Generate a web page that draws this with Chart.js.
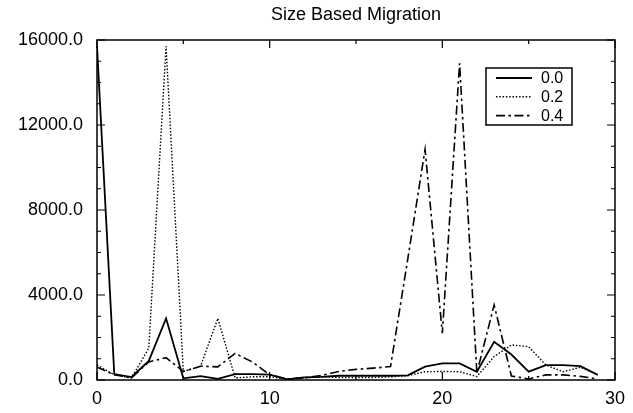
<!DOCTYPE html>
<html lang="en">
<head>
    <meta charset="UTF-8">
    <title>Size Based Migration</title>
    <script src="https://cdn.jsdelivr.net/npm/chart.js"></script>
    <style>
        body {
            margin: 0;
            padding: 0;
            background: #ffffff;
        }
        #wrap {
            width: 633px;
            height: 413px;
        }
    </style>
</head>
<body>
    <div id="wrap"><canvas id="migrationChart"></canvas></div>

    <script>
        // x positions (generation index)
        const steps = [0, 1, 2, 3, 4, 5, 6, 7, 8, 9, 10, 11, 12, 13, 14,
                       15, 16, 17, 18, 19, 20, 21, 22, 23, 24, 25, 26, 27, 28, 29];

        const seriesNames = ['0.0', '0.2', '0.4'];

        const rate00 = [15700, 280, 140, 900, 2900, 80, 180, 50, 280, 280,
                        250, 30, 120, 150, 200, 200, 200, 200, 220, 630,
                        780, 780, 390, 1800, 1200, 390, 700, 700, 650, 240];
        const rate02 = [700, 250, 100, 1500, 15700, 400, 650, 2900, 100, 150,
                        150, 50, 100, 150, 120, 120, 120, 150, 200, 390,
                        400, 390, 160, 1100, 1650, 1570, 700, 390, 600, 250];
        const rate04 = [600, 250, 100, 850, 1050, 400, 650, 620, 1250, 850,
                        250, 50, 100, 220, 400, 500, 560, 630, 5700, 10850,
                        2200, 14900, 330, 3530, 190, 50, 240, 240, 170, 50];

        const xTicks = [0, 10, 20, 30];
        const yTicks = [0, 4000, 8000, 12000, 16000];

        const chartTitle = 'Size Based Migration';
        const FONT = "'Liberation Sans', Arial, sans-serif";

        function toPoints(values) {
            return values.map((v, i) => ({ x: steps[i], y: v }));
        }

        // title centred over the plot area, not the whole canvas
        const plotTitle = {
            id: 'plotTitle',
            afterDraw(chart) {
                const ctx = chart.ctx;
                const area = chart.chartArea;
                ctx.save();
                ctx.font = '18px ' + FONT;
                ctx.fillStyle = '#000';
                ctx.textAlign = 'center';
                ctx.textBaseline = 'middle';
                ctx.fillText(chartTitle, (area.left + area.right) / 2, 15);
                ctx.restore();
            }
        };

        // inward tick marks on all four sides, plus the frame
        const frameTicks = {
            id: 'frameTicks',
            afterDatasetsDraw(chart) {
                const ctx = chart.ctx;
                const area = chart.chartArea;
                const xs = chart.scales.x;
                const ys = chart.scales.y;
                ctx.save();
                ctx.strokeStyle = '#000';
                ctx.lineWidth = 1.5;
                ctx.strokeRect(area.left, area.top, area.right - area.left, area.bottom - area.top);
                ctx.lineWidth = 1.2;
                ctx.beginPath();
                for (let v = 0; v <= 16000; v += 1000) {
                    const py = ys.getPixelForValue(v);
                    const len = (v % 4000 === 0) ? 8 : 4;
                    ctx.moveTo(area.left, py);
                    ctx.lineTo(area.left + len, py);
                    ctx.moveTo(area.right, py);
                    ctx.lineTo(area.right - len, py);
                }
                for (let v = 0; v <= 30; v += 5) {
                    const px = xs.getPixelForValue(v);
                    const len = (v % 10 === 0) ? 8 : 4;
                    ctx.moveTo(px, area.bottom);
                    ctx.lineTo(px, area.bottom - len);
                    ctx.moveTo(px, area.top);
                    ctx.lineTo(px, area.top + len);
                }
                ctx.stroke();
                ctx.restore();
            }
        };

        // boxed legend in the upper right of the plot
        const boxLegend = {
            id: 'boxLegend',
            afterDraw(chart) {
                const ctx = chart.ctx;
                const area = chart.chartArea;
                const left = area.right - 129;
                const top = area.top + 28;
                const w = 86, h = 57;
                ctx.save();
                ctx.fillStyle = '#fff';
                ctx.fillRect(left, top, w, h);
                ctx.strokeStyle = '#000';
                ctx.lineWidth = 1.5;
                ctx.setLineDash([]);
                ctx.strokeRect(left, top, w, h);
                ctx.font = '16px ' + FONT;
                ctx.textBaseline = 'middle';
                ctx.fillStyle = '#000';
                chart.data.datasets.forEach((ds, i) => {
                    const y = top + 10 + i * 18.8;
                    ctx.beginPath();
                    ctx.lineWidth = ds.borderWidth;
                    ctx.setLineDash(ds.borderDash || []);
                    ctx.moveTo(left + 10, y);
                    ctx.lineTo(left + 46, y);
                    ctx.stroke();
                    ctx.setLineDash([]);
                    ctx.fillText(ds.label, left + 55, y + 1);
                });
                ctx.restore();
            }
        };

        const ctx = document.getElementById('migrationChart').getContext('2d');
        new Chart(ctx, {
            type: 'line',
            data: {
                datasets: [
                    {
                        label: seriesNames[0],
                        data: toPoints(rate00),
                        borderColor: '#000',
                        borderWidth: 1.8,
                        borderDash: []
                    },
                    {
                        label: seriesNames[1],
                        data: toPoints(rate02),
                        borderColor: '#000',
                        borderWidth: 1.4,
                        borderDash: [1.5, 1.8]
                    },
                    {
                        label: seriesNames[2],
                        data: toPoints(rate04),
                        borderColor: '#000',
                        borderWidth: 1.6,
                        borderDash: [9, 3.5, 2.5, 3.5]
                    }
                ]
            },
            options: {
                responsive: true,
                maintainAspectRatio: false,
                animation: false,
                elements: {
                    point: { radius: 0 },
                    line: { tension: 0, fill: false }
                },
                layout: {
                    padding: { top: 40, right: 17, bottom: 0, left: 0 }
                },
                plugins: {
                    legend: { display: false },
                    tooltip: { enabled: false },
                    title: { display: false }
                },
                scales: {
                    x: {
                        type: 'linear',
                        min: 0,
                        max: 30,
                        afterBuildTicks(scale) {
                            scale.ticks = xTicks.map(v => ({ value: v }));
                        },
                        afterFit(scale) {
                            scale.height = 33;
                        },
                        grid: { display: false, drawTicks: false },
                        border: { display: false },
                        ticks: {
                            color: '#000',
                            padding: 8,
                            maxRotation: 0,
                            font: { family: FONT, size: 18 }
                        }
                    },
                    y: {
                        min: 0,
                        max: 16000,
                        afterBuildTicks(scale) {
                            scale.ticks = yTicks.map(v => ({ value: v }));
                        },
                        afterFit(scale) {
                            scale.width = 97;
                        },
                        grid: { display: false, drawTicks: false },
                        border: { display: false },
                        ticks: {
                            color: '#000',
                            padding: 14,
                            font: { family: FONT, size: 18 },
                            callback: v => v.toFixed(1)
                        }
                    }
                }
            },
            plugins: [plotTitle, frameTicks, boxLegend]
        });
    </script>
</body>
</html>
